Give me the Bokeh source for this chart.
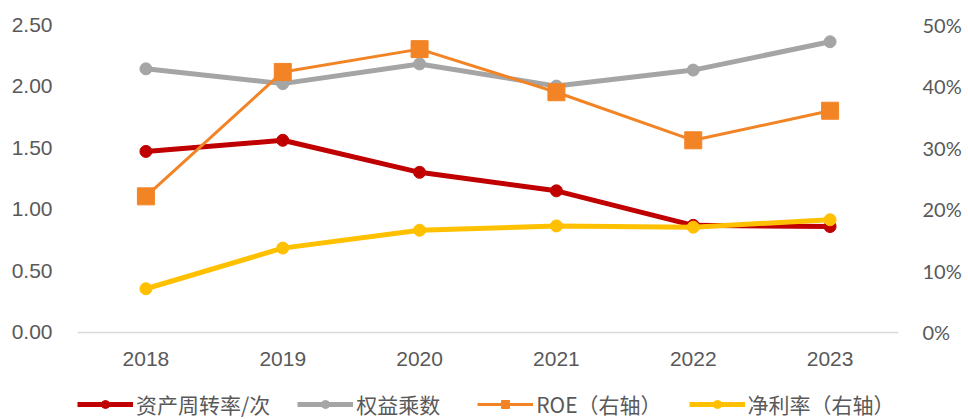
from bokeh.plotting import figure
from bokeh.models import (FactorRange, Range1d, LinearAxis, FixedTicker,
                          NumeralTickFormatter, PrintfTickFormatter, Legend, LegendItem)
from bokeh.embed import file_html
from bokeh.resources import INLINE

years = ["2018", "2019", "2020", "2021", "2022", "2023"]
asset_turnover = [1.47, 1.56, 1.30, 1.15, 0.87, 0.86]      # 资产周转率/次 (left)
equity_multiplier = [2.14, 2.02, 2.18, 2.00, 2.13, 2.36]   # 权益乘数 (left)
roe = [22.1, 42.3, 46.0, 39.0, 31.2, 36.0]                 # ROE % (right)
net_margin = [7.1, 13.7, 16.6, 17.3, 17.1, 18.3]           # 净利率 % (right)

left_ticks = [0, 0.5, 1.0, 1.5, 2.0, 2.5]
right_ticks = [0, 10, 20, 30, 40, 50]

TXT = "#595959"

# plot area spans down to the bottom of the page so that the legend below the
# x axis sits inside it; the x axis is drawn at y = 0
LEFT_MIN, LEFT_MAX = -0.7062, 2.5
RIGHT_MIN, RIGHT_MAX = -14.124, 50

p = figure(width=968, height=419, x_range=FactorRange(*years),
           y_range=Range1d(LEFT_MIN, LEFT_MAX), output_backend="svg", toolbar_location=None,
           min_border_left=77, min_border_right=70, min_border_top=24,
           min_border_bottom=0)
p.extra_y_ranges = {"pct": Range1d(RIGHT_MIN, RIGHT_MAX)}
p.outline_line_color = None
p.xgrid.visible = False
p.ygrid.visible = False
p.background_fill_color = "white"
p.border_fill_color = "white"

# x axis (drawn at y = 0)
xa = p.xaxis[0]
xa.fixed_location = 0
xa.axis_line_color = "#D9D9D9"
xa.axis_line_width = 1.5
xa.major_tick_line_color = None
xa.major_tick_out = 0
xa.minor_tick_line_color = None
xa.major_label_text_color = TXT
xa.major_label_text_font = "Liberation Sans"
xa.major_label_text_font_size = "21px"
xa.major_label_standoff = 20

# left axis
ya = p.yaxis[0]
ya.ticker = FixedTicker(ticks=left_ticks)
ya.formatter = NumeralTickFormatter(format="0.00")
ya.axis_line_color = None
ya.major_tick_line_color = None
ya.major_tick_out = 0
ya.minor_tick_line_color = None
ya.major_label_text_color = TXT
ya.major_label_text_font = "Liberation Sans"
ya.major_label_text_font_size = "21px"
ya.major_label_standoff = 25

# right axis
ra = LinearAxis(y_range_name="pct", ticker=FixedTicker(ticks=right_ticks),
                formatter=PrintfTickFormatter(format="%d%%"))
ra.axis_line_color = None
ra.major_tick_line_color = None
ra.major_tick_out = 0
ra.minor_tick_line_color = None
ra.major_label_text_color = TXT
ra.major_label_text_font = "Lato"
ra.major_label_text_font_size = "20px"
ra.major_label_standoff = 24
p.add_layout(ra, "right")

RED, GREY, ORANGE, YELLOW = "#C00000", "#A5A5A5", "#F28426", "#FFC000"

l1 = p.line(years, asset_turnover, line_color=RED, line_width=5)
s1 = p.scatter(years, asset_turnover, marker="circle", size=12, color=RED)
l2 = p.line(years, equity_multiplier, line_color=GREY, line_width=5)
s2 = p.scatter(years, equity_multiplier, marker="circle", size=12, color=GREY)
l3 = p.line(years, roe, line_color=ORANGE, line_width=3, y_range_name="pct")
s3 = p.scatter(years, roe, marker="square", size=17, color=ORANGE, y_range_name="pct")
l4 = p.line(years, net_margin, line_color=YELLOW, line_width=5, y_range_name="pct")
s4 = p.scatter(years, net_margin, marker="circle", size=12, color=YELLOW, y_range_name="pct")

legend = Legend(items=[
    LegendItem(label="资产周转率/次", renderers=[l1, s1]),
    LegendItem(label="权益乘数", renderers=[l2, s2]),
    LegendItem(label="ROE（右轴）", renderers=[l3, s3]),
    LegendItem(label="净利率（右轴）", renderers=[l4, s4]),
], orientation="horizontal", location=(0, 0))
legend.glyph_width = 56
legend.glyph_height = 20
legend.label_standoff = 3
legend.label_width = 94
legend.spacing = 27
legend.padding = 0
legend.margin = 0
legend.border_line_color = None
legend.background_fill_alpha = 0
legend.label_text_font = "Noto Sans CJK SC"
legend.label_text_font_size = "21px"
legend.label_text_color = TXT
p.add_layout(legend, "center")

open("out.html", "w").write(file_html(p, INLINE))
